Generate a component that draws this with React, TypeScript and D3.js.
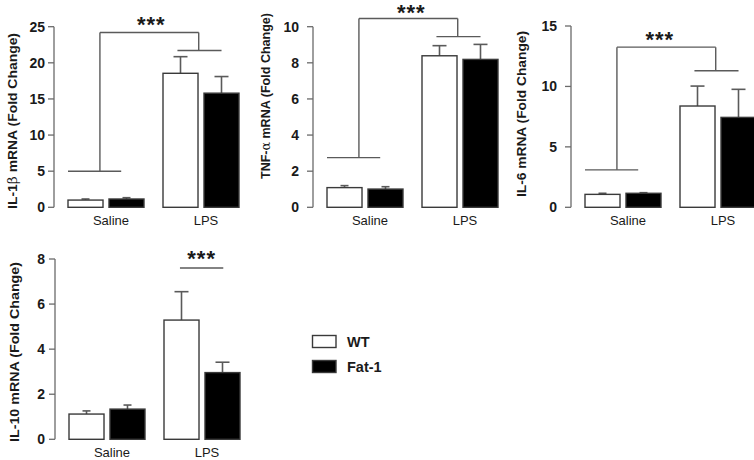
import React from 'react';
import * as d3 from 'd3';

// ---------- data ----------
const categories = ['Saline', 'LPS'];
const genotypes = ['WT', 'Fat-1'];

const il1bWT = [1.0, 18.55];
const il1bWTErr = [0.15, 2.3];
const il1bFat = [1.15, 15.8];
const il1bFatErr = [0.18, 2.3];
const il1bTicks = [0, 5, 10, 15, 20, 25];

const tnfWT = [1.09, 8.39];
const tnfWTErr = [0.11, 0.56];
const tnfFat = [1.01, 8.19];
const tnfFatErr = [0.13, 0.83];
const tnfTicks = [0, 2, 4, 6, 8, 10];

const il6WT = [1.07, 8.38];
const il6WTErr = [0.09, 1.65];
const il6Fat = [1.16, 7.44];
const il6FatErr = [0.05, 2.32];
const il6Ticks = [0, 5, 10, 15];

const il10WT = [1.12, 5.29];
const il10WTErr = [0.14, 1.26];
const il10Fat = [1.34, 2.96];
const il10FatErr = [0.18, 0.46];
const il10Ticks = [0, 2, 4, 6, 8];

// bracket levels (data units): [saline line, top line, LPS line]
const il1bBracket = [5, 24.2, 21.7];
const tnfBracket = [2.75, 10.45, 9.45];
const il6Bracket = [3.1, 13.25, 11.3];
const il10SigLine = [7.6];

// ---------- layout ----------
type PanelCfg = {
  label: string;
  greek?: string;
  rest: string;
  wt: number[];
  wtErr: number[];
  fat: number[];
  fatErr: number[];
  ticks: number[];
  axisX: number;
  top: number;
  bottom: number;
  labelEnd: number;
  titleX: number;
  titleY: number;
  titleLen: number;
  starDx: number;
  starDy: number;
  bracket?: number[];
  sigLine?: number[];
};

const panels: PanelCfg[] = [
  { label: 'IL-1', greek: 'β', rest: ' mRNA (Fold Change)', wt: il1bWT, wtErr: il1bWTErr, fat: il1bFat, fatErr: il1bFatErr, ticks: il1bTicks, axisX: 54, top: 26.7, bottom: 207.3, labelEnd: 45, titleX: 12, titleY: 121, titleLen: 176, starDx: 2, starDy: -0.5, bracket: il1bBracket },
  { label: 'TNF-', greek: 'α', rest: ' mRNA (Fold Change)', wt: tnfWT, wtErr: tnfWTErr, fat: tnfFat, fatErr: tnfFatErr, ticks: tnfTicks, axisX: 313, top: 26.7, bottom: 207.3, labelEnd: 299, titleX: 265, titleY: 96, titleLen: 166, starDx: 3, starDy: 1.5, bracket: tnfBracket },
  { label: 'IL-6', rest: ' mRNA (Fold Change)', wt: il6WT, wtErr: il6WTErr, fat: il6Fat, fatErr: il6FatErr, ticks: il6Ticks, axisX: 571, top: 26, bottom: 207.3, labelEnd: 557, titleX: 521, titleY: 114, titleLen: 166, starDx: -6.5, starDy: -0.5, bracket: il6Bracket },
  { label: 'IL-10', rest: ' mRNA (Fold Change)', wt: il10WT, wtErr: il10WTErr, fat: il10Fat, fatErr: il10FatErr, ticks: il10Ticks, axisX: 55, top: 259, bottom: 439.3, labelEnd: 45, titleX: 14, titleY: 352, titleLen: 180, starDx: 0, starDy: -2, sigLine: il10SigLine },
];

const AXIS = '#6a6a6a';
const LINE = '#5a5a5a';
const TXT = '#1a1a1a';
const FONT = 'Liberation Sans, Arial, sans-serif';

function Panel({ p }: { p: PanelCfg }) {
  const start = p.axisX + 14;
  const x0 = d3.scaleBand<string>().domain(categories).range([start, start + 171]).paddingInner(0.2).paddingOuter(0);
  const x1 = d3.scaleBand<string>().domain(genotypes).range([0, x0.bandwidth()]).paddingInner(0.146).paddingOuter(0);
  const yMax = p.ticks[p.ticks.length - 1];
  const y = d3.scaleLinear().domain([0, yMax]).range([p.bottom, p.top]);
  const bw = x1.bandwidth();
  const gw = x0.bandwidth();

  const series = [
    { g: 'WT', vals: p.wt, errs: p.wtErr, fill: '#ffffff' },
    { g: 'Fat-1', vals: p.fat, errs: p.fatErr, fill: '#000000' },
  ];

  const sx = x0('Saline') as number;
  const lx = x0('LPS') as number;

  return (
    <g>
      {/* y axis */}
      <line x1={p.axisX} x2={p.axisX} y1={y(0)} y2={y(yMax)} stroke={AXIS} strokeWidth={1.3} />
      {p.ticks.map((t) => (
        <g key={t}>
          <line x1={p.axisX - 6} x2={p.axisX} y1={y(t)} y2={y(t)} stroke={AXIS} strokeWidth={1.3} />
          <text x={p.labelEnd} y={y(t)} dy="0.36em" textAnchor="end" fontFamily={FONT} fontWeight="bold" fontSize={14} fill={TXT}>
            {t}
          </text>
        </g>
      ))}
      {/* title */}
      <text
        transform={`translate(${p.titleX},${p.titleY}) rotate(-90)`}
        textAnchor="middle"
        dominantBaseline="central"
        fontFamily={FONT}
        fontWeight="bold"
        fontSize={13.3}
        fill={TXT}
        textLength={p.titleLen}
        lengthAdjust="spacingAndGlyphs"
      >
        {p.label}
        {p.greek ? <tspan fontWeight="normal" fontFamily="DejaVu Serif, serif">{p.greek}</tspan> : null}
        {p.rest}
      </text>
      {/* bars */}
      {series.map((s) =>
        categories.map((c, i) => {
          const bx = (x0(c) as number) + (x1(s.g) as number);
          const cx = bx + bw / 2;
          const capW = c === 'LPS' ? 14 : 8;
          const top = y(s.vals[i]);
          const errTop = y(s.vals[i] + s.errs[i]);
          return (
            <g key={s.g + c}>
              <line x1={cx} x2={cx} y1={top} y2={errTop} stroke={LINE} strokeWidth={1.6} />
              <line x1={cx - capW / 2} x2={cx + capW / 2} y1={errTop} y2={errTop} stroke={LINE} strokeWidth={1.6} />
              <rect x={bx} y={top} width={bw} height={y(0) - top} fill={s.fill} stroke="#3a3a3a" strokeWidth={1.4} />
            </g>
          );
        })
      )}
      {/* category labels */}
      {categories.map((c) => (
        <text key={c} x={(x0(c) as number) + gw / 2 + 5} y={y(0) + 17.5} textAnchor="middle" fontFamily={FONT} fontSize={13} fill={TXT}>
          {c}
        </text>
      ))}
      {/* significance brackets */}
      {p.bracket ? (
        (() => {
          const [sY, tY, lY] = p.bracket.map((v) => y(v));
          const sv = sx + gw * 0.42;
          const lv = lx + gw * 0.47;
          return (
            <g stroke={LINE} strokeWidth={1.4} fill="none">
              <line x1={sx} x2={sx + gw * 0.7} y1={sY} y2={sY} />
              <line x1={sv} x2={sv} y1={sY} y2={tY} />
              <line x1={sv} x2={lv} y1={tY} y2={tY} />
              <line x1={lv} x2={lv} y1={tY} y2={lY} />
              <line x1={lx + gw * 0.19} x2={lx + gw * 0.77} y1={lY} y2={lY} />
              <text x={(sv + lv) / 2 + p.starDx} y={tY + p.starDy} textAnchor="middle" fontFamily={FONT} fontWeight="bold" fontSize={22} fill={TXT} stroke="none" letterSpacing={1}>
                ***
              </text>
            </g>
          );
        })()
      ) : null}
      {p.sigLine ? (
        <g>
          <line x1={lx + gw * 0.21} x2={lx + gw * 0.78} y1={y(p.sigLine[0])} y2={y(p.sigLine[0])} stroke={LINE} strokeWidth={1.4} />
          <text x={lx + gw * 0.495 + p.starDx} y={y(p.sigLine[0]) + p.starDy} textAnchor="middle" fontFamily={FONT} fontWeight="bold" fontSize={22} fill={TXT} letterSpacing={1}>
            ***
          </text>
        </g>
      ) : null}
    </g>
  );
}

function Legend() {
  const items = [
    { g: genotypes[0], fill: '#ffffff' },
    { g: genotypes[1], fill: '#000000' },
  ];
  const ly = d3.scalePoint<string>().domain(genotypes).range([341.5, 366.5]);
  return (
    <g>
      {items.map((it) => (
        <g key={it.g}>
          <rect x={312.5} y={(ly(it.g) as number) - 6} width={23.5} height={12} fill={it.fill} stroke="#3a3a3a" strokeWidth={1.4} />
          <text x={347} y={ly(it.g) as number} dy="0.36em" fontFamily={FONT} fontWeight="bold" fontSize={14.5} fill={TXT}>
            {it.g}
          </text>
        </g>
      ))}
    </g>
  );
}

export default function App() {
  return (
    <svg width={754} height={460} style={{ position: 'absolute', left: 0, top: 0, background: '#fff' }}>
      <rect width={754} height={460} fill="#fff" />
      {panels.map((p, i) => (
        <Panel key={i} p={p} />
      ))}
      <Legend />
    </svg>
  );
}
